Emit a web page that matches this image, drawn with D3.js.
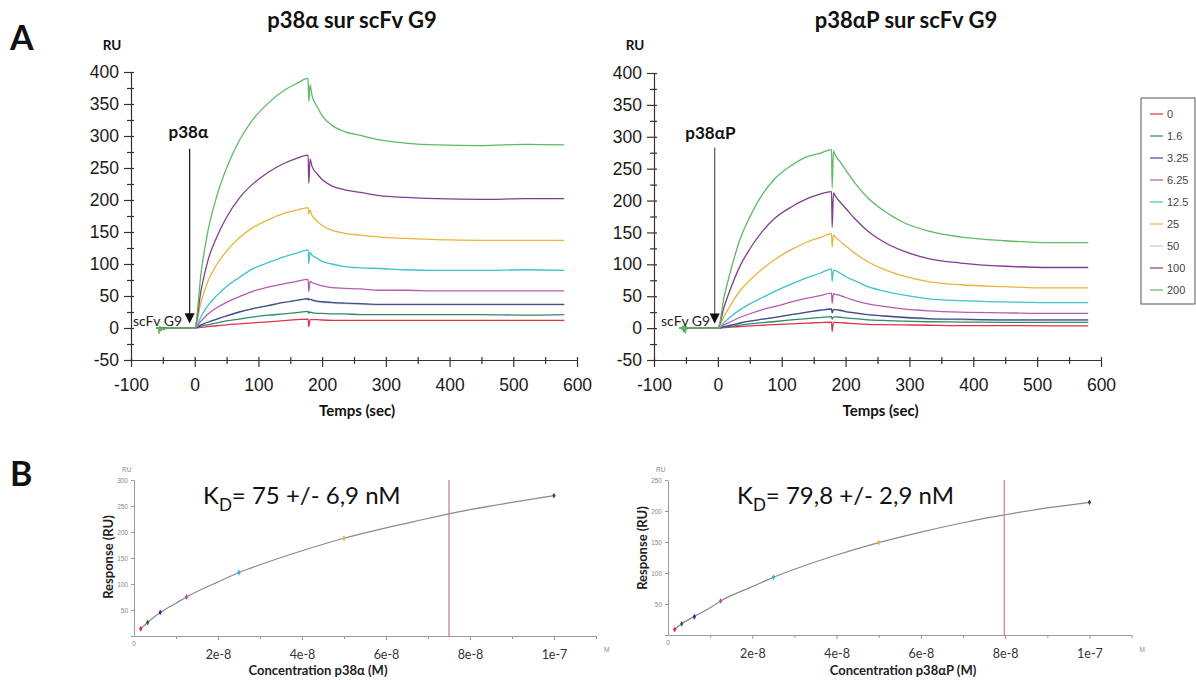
<!DOCTYPE html>
<html>
<head>
<meta charset="utf-8">
<script src="https://cdn.jsdelivr.net/npm/d3@7"></script>
<style>
  body { margin: 0; background: #fff; }
  .calibri { font-family: Lato, "Open Sans", sans-serif; }
  .arial { font-family: "Liberation Sans", Arial, sans-serif; }
</style>
</head>
<body>
<svg id="chart" width="1196" height="680"></svg>
<script>
// sampling times of the sensorgrams (sec)
const times = [-60, -57, -56, -55, -53, -51, -49, -45, -20,
  0, 10, 20, 35, 50, 70, 90, 115, 140, 160, 178,
  179, 181,
  184, 192, 200, 215, 235, 260, 290, 330, 380, 450, 520, 580];

// legend (nM) and series colours
const concLabels = ["0", "1.6", "3.25", "6.25", "12.5", "25", "50", "100", "200"];
const seriesColors = ["#e0344a", "#2f8a68", "#3e4f8e", "#b35cb0", "#3fc4cb", "#e9b43c", "#c9c9c9", "#7f3e8e", "#5cbb62"];

// p38α sur scFv G9 (RU), one row per legend entry
const p38aValues = [
  [0,0,0,0,0,0,0,0,0, 0,1,2,3.5,5,6.5,8,9.5,11.5,13,14, 2,13, 13,13,12.5,12,12,12,12,12,12,12,12,12],
  [0,0,-7,2,-4,1,-2,0,0, 0,3,5,8,11,14,17,20,22,24,26, 23,25, 24,23,23,22,22,21,21,21,21,21,20,21],
  [0,0,0,0,0,0,0,0,0, 0,5,9,14,19,25,30,35,40,43,46, 44,45, 44,42,41,40,39,38,37,37,37,37,37,37],
  [0,0,0,0,0,0,0,0,0, 0,11,21,32,40,49,57,64,69,73,76, 57,73, 71,68,66,63,62,61,59,59,58,58,58,58],
  [0,0,0,0,0,0,0,0,0, 0,18,34,51,65,79,92,102,111,117,122, 101,118, 114,109,104,100,96,94,93,91,90,90,91,90],
  [0,0,0,0,0,0,0,0,0, 0,41,71,100,120,141,156,169,179,184,188, 178,184, 176,167,160,153,148,145,142,140,138,137,137,137],
  [0,0,0,0,0,0,0,0,0, 0,5,9,14,19,25,30,35,40,43,45, 44,45, 43,41,40,39,38,37,36,36,36,36,36,36],
  [0,0,0,0,0,0,0,0,0, 0,59,103,143,173,203,224,243,257,265,270, 226,264, 253,241,232,222,216,212,207,204,202,201,202,202],
  [0,1,-9,3,-5,1,-3,0,0, 0,86,148,207,250,293,324,351,371,382,390, 354,380, 364,346,332,317,307,301,294,289,286,285,287,286]
];

// p38αP sur scFv G9 (RU)
const p38aPValues = [
  [0,0,0,0,0,0,0,0,0, 0,0.8,1.4,2.4,3.4,4.5,5.5,6.7,7.8,8.6,9.4, -5,9, 9,8.5,8,7,6,5.5,5,4.5,4,4,3.6,3.6],
  [0,0,-2,3,-6,4,-1,0,0, 0,1.5,2.7,4.7,6.5,8.6,10.4,12.8,15,16.6,18, 14,17.5, 17.5,17,16,15,13,12,11,10,9.5,9,9,9],
  [0,0,0,0,0,0,0,0,0, 0,2.5,4.5,8,11,14,17,21,25,28,30, 24,29, 29,28,26,24,21,19,17,15,14,13,13,13],
  [0,0,0,0,0,0,0,0,0, 0,5.5,10,17,22.5,29,34,41,47,51,55, 39,54, 53,51,48,43,38,34,30,27,25,24,23,23],
  [0,0,0,0,0,0,0,0,0, 0,9,18,29,38,48,58,69,79,86,93, 73,91, 90,86,81,74,65,58,52,46,43,41,40,40],
  [0,0,0,0,0,0,0,0,0, 0,19,36,59,75,93,108,123,135,142,148, 127,146, 143,136,129,117,104,92,82,73,68,65,63,63],
  [0,0,0,0,0,0,0,0,0, 0,2.5,4.5,8,11,14,17,21,25,28,30, 24,29, 29,27,26,23,21,19,16,14,13,12,12,12],
  [0,0,0,0,0,0,0,0,0, 0,34,62,98,124,152,173,190,203,210,214, 158,212, 207,197,188,171,152,135,121,109,102,97,95,95],
  [0,0,1,-3,4,-8,2,0,0, 0,50,90,140,174,210,235,255,269,274,280, 220,278, 271,260,248,227,204,184,166,152,143,137,134,134]
];

const timeTicks = [-100, 0, 100, 200, 300, 400, 500, 600];
const ruTicks = [-50, 0, 50, 100, 150, 200, 250, 300, 350, 400];

// steady state binding (panel B)
const pointConc = [1.6, 3.25, 6.25, 12.5, 25, 50, 100]; // nM
const pointColors = ["#d0323c", "#2d6a3e", "#2838a0", "#b050b0", "#30b8c8", "#e8b040", "#6a2a7a"];
const p38aResp = [14, 26, 45.5, 75, 122, 188, 270];
const p38aPResp = [9, 18, 29.5, 55, 93, 149, 214];
const fitConc = [1.6, 3.25, 6.25, 10, 12.5, 20, 25, 30, 40, 50, 60, 70, 75, 80, 90, 100];
const p38aFit = [14, 26, 45, 63, 75, 104, 122, 137, 164, 188, 208, 226, 235, 243, 257, 270];
const p38aPFit = [9, 18, 30, 44, 55, 78, 93, 106, 129, 149, 166, 181, 188, 194, 205, 214];
const concTicks = [2e-8, 4e-8, 6e-8, 8e-8, 1e-7];
const concTickLabels = ["2e-8", "4e-8", "6e-8", "8e-8", "1e-7"];

const svg = d3.select("#chart");

function drawSensorgram(opt) {
  const x = d3.scaleLinear().domain([-100, 600]).range([opt.x0, opt.x1]);
  const y = d3.scaleLinear().domain([-50, 400]).range([360, opt.yTop]);
  const g = svg.append("g");

  // minor ticks first
  g.append("g")
    .attr("transform", `translate(0,${y(-50)})`)
    .call(d3.axisBottom(x).tickValues(timeTicks.slice(0, -1).map(d => d + 50)).tickSize(4).tickFormat(""))
    .call(a => a.select(".domain").remove())
    .call(a => a.selectAll(".tick line").attr("y1", -3).attr("stroke", "#333"));
  g.append("g")
    .attr("transform", `translate(${opt.x0},0)`)
    .call(d3.axisLeft(y).tickValues(ruTicks.slice(0, -1).map(d => d + 25)).tickSize(4).tickFormat(""))
    .call(a => a.select(".domain").remove())
    .call(a => a.selectAll(".tick line").attr("x1", 3).attr("stroke", "#333"));

  // plain hyphen for negatives, like the original
  const fmt = d => String(d);
  const xa = g.append("g")
    .attr("transform", `translate(0,${y(-50)})`)
    .call(d3.axisBottom(x).tickValues(timeTicks).tickFormat(fmt).tickSize(7).tickSizeOuter(0).tickPadding(8));
  xa.selectAll(".tick line").attr("y1", -3);
  const ya = g.append("g")
    .attr("transform", `translate(${opt.x0},0)`)
    .call(d3.axisLeft(y).tickValues(ruTicks).tickFormat(fmt).tickSize(7).tickSizeOuter(0).tickPadding(5));
  ya.selectAll(".tick line").attr("x1", 3);
  g.selectAll(".domain, .tick line").attr("stroke", "#333").attr("stroke-width", 1.2);
  g.selectAll(".tick text").attr("class", "arial").attr("font-size", 17.5).attr("fill", "#1a1a1a");
  xa.selectAll(".tick text").attr("dy", "0.9em");

  const line = d3.line()
    .x((d, i) => x(times[i]))
    .y(d => y(d))
    .curve(d3.curveMonotoneX);

  // gray (50) sits underneath the others
  const order = [6, 0, 1, 2, 3, 4, 5, 7, 8];
  g.selectAll(".trace")
    .data(order)
    .enter().append("path")
    .attr("class", "trace")
    .attr("d", k => line(opt.values[k]))
    .attr("fill", "none")
    .attr("stroke", k => seriesColors[k])
    .attr("stroke-width", 1.3);

  // injection arrow
  const ax = x(opt.arrowT);
  g.append("line")
    .attr("x1", ax).attr("x2", ax)
    .attr("y1", y(opt.arrowTop)).attr("y2", y(15))
    .attr("stroke", opt.arrowColor).attr("stroke-width", 1.3);
  g.append("path")
    .attr("d", `M${ax - 5},${y(23)} L${ax + 5},${y(23)} L${ax},${y(7)} Z`)
    .attr("fill", "#111");

  g.append("text").attr("class", "calibri")
    .attr("x", x(opt.labelT)).attr("y", y(297))
    .attr("font-size", 17).attr("font-weight", "bold").attr("fill", "#111")
    .text(opt.analyte);
  g.append("text").attr("class", "calibri")
    .attr("x", x(opt.ligandT)).attr("y", y(3))
    .attr("font-size", 14).attr("fill", "#222")
    .text("scFv G9");

  g.append("text").attr("class", "calibri")
    .attr("x", opt.x0 - 19).attr("y", 50)
    .attr("text-anchor", "middle")
    .attr("font-size", 13.5).attr("font-weight", "bold").attr("fill", "#111")
    .text("RU");
  g.append("text").attr("class", "calibri")
    .attr("x", opt.titleX).attr("y", 28)
    .attr("text-anchor", "middle")
    .attr("font-size", 22).attr("font-weight", "bold").attr("fill", "#111")
    .text(opt.title);
  g.append("text").attr("class", "calibri")
    .attr("x", (opt.x0 + opt.x1) / 2 + 3).attr("y", 416)
    .attr("text-anchor", "middle")
    .attr("font-size", 15).attr("font-weight", "bold").attr("fill", "#111")
    .text("Temps (sec)");
}

function drawBinding(opt) {
  const x = d3.scaleLinear().domain([0, 1.1e-7]).range([opt.x0, opt.x1]);
  const y = d3.scaleLinear().domain([0, opt.yMax]).range([opt.yBase, 480]);
  const g = svg.append("g");

  g.append("g")
    .attr("transform", `translate(0,${opt.yBase})`)
    .call(d3.axisBottom(x).tickValues([1e-8, 3e-8, 5e-8, 7e-8, 9e-8, 1.1e-7]).tickSize(3).tickFormat(""))
    .call(a => a.select(".domain").remove());
  const xa = g.append("g")
    .attr("transform", `translate(0,${opt.yBase})`)
    .call(d3.axisBottom(x).tickValues(concTicks).tickSize(4).tickSizeOuter(0).tickPadding(10)
      .tickFormat((d, i) => concTickLabels[i]));
  xa.selectAll(".tick text").attr("class", "calibri").attr("font-size", 12.5).attr("fill", "#333");
  const ya = g.append("g")
    .attr("transform", `translate(${opt.x0},0)`)
    .call(d3.axisLeft(y).tickValues(opt.yTicks).tickSize(3).tickSizeOuter(0).tickPadding(3));
  ya.selectAll(".tick text").attr("class", "arial").attr("font-size", 6.5).attr("fill", "#888");
  ya.selectAll(".tick").filter(d => d === 0).select("text").remove();
  g.selectAll(".domain, .tick line").attr("stroke", "#9a9a9a");

  // small unit labels
  g.append("text").attr("class", "arial").attr("x", opt.x0 - 12).attr("y", 472)
    .attr("font-size", 6.5).attr("fill", "#888").text("RU");
  g.append("text").attr("class", "arial").attr("x", opt.x0).attr("y", opt.yBase + 10)
    .attr("text-anchor", "middle").attr("font-size", 6.5).attr("fill", "#888").text("0");
  g.append("text").attr("class", "arial").attr("x", x(1.1e-7) + 8).attr("y", 652)
    .attr("font-size", 6.5).attr("fill", "#888").text("M");

  // KD marker
  g.append("line")
    .attr("x1", x(opt.kd * 1e-9)).attr("x2", x(opt.kd * 1e-9))
    .attr("y1", y(0)).attr("y2", y(opt.yMax))
    .attr("stroke", "#c79aa3").attr("stroke-width", 1.5);

  const line = d3.line()
    .x((d, i) => x(fitConc[i] * 1e-9))
    .y(d => y(d))
    .curve(d3.curveMonotoneX);
  g.append("path")
    .attr("d", line(opt.fit))
    .attr("fill", "none").attr("stroke", "#8a8a8a").attr("stroke-width", 1.2);

  g.selectAll(".pt")
    .data(opt.resp)
    .enter().append("path")
    .attr("class", "pt")
    .attr("transform", (d, i) => `translate(${x(pointConc[i] * 1e-9)},${y(d)})`)
    .attr("d", d3.symbol(d3.symbolDiamond, 10))
    .attr("fill", (d, i) => pointColors[i]);

  const kd = g.append("text").attr("class", "calibri")
    .attr("x", opt.kdX).attr("y", 504)
    .attr("font-size", 24).attr("fill", "#111");
  kd.append("tspan").text("K");
  kd.append("tspan").attr("font-size", 17).attr("dy", 7).text("D");
  kd.append("tspan").attr("dy", -7).text(opt.kdText);

  g.append("text").attr("class", "calibri")
    .attr("transform", `translate(${opt.ylabX},${opt.ylabY}) rotate(-90)`)
    .attr("text-anchor", "middle")
    .attr("font-size", 13).attr("font-weight", "bold").attr("fill", "#222")
    .text("Response (RU)");
  g.append("text").attr("class", "calibri")
    .attr("x", opt.xlabX).attr("y", 675)
    .attr("text-anchor", "middle")
    .attr("font-size", 13).attr("font-weight", "bold").attr("fill", "#222")
    .text(opt.xlab);
}

drawSensorgram({
  x0: 131, x1: 577, yTop: 72, values: p38aValues,
  title: "p38α sur scFv G9", titleX: 352, analyte: "p38α",
  arrowT: -8, arrowTop: 280, arrowColor: "#222", labelT: -41, ligandT: -97
});
drawSensorgram({
  x0: 654, x1: 1101, yTop: 73, values: p38aPValues,
  title: "p38αP sur scFv G9", titleX: 906, analyte: "p38αP",
  arrowT: -5, arrowTop: 283, arrowColor: "#666", labelT: -51, ligandT: -89
});

// legend
const legend = svg.append("g");
legend.append("rect")
  .attr("x", 1141).attr("y", 98).attr("width", 54).attr("height", 206)
  .attr("fill", "none").attr("stroke", "#555").attr("stroke-width", 1);
const items = legend.selectAll(".item")
  .data(concLabels)
  .enter().append("g")
  .attr("transform", (d, i) => `translate(0,${114 + i * 22})`);
items.append("line")
  .attr("x1", 1150).attr("x2", 1163)
  .attr("stroke", (d, i) => seriesColors[i]).attr("stroke-width", 1.2);
items.append("text").attr("class", "arial")
  .attr("x", 1167).attr("y", 4)
  .attr("font-size", 11).attr("fill", "#444")
  .text(d => d);

drawBinding({
  x0: 134, x1: 596, yBase: 636, yMax: 300, yTicks: [0, 50, 100, 150, 200, 250, 300],
  fit: p38aFit, resp: p38aResp, kd: 75, kdX: 203, kdText: "= 75 +/- 6,9 nM",
  ylabX: 113, ylabY: 557, xlabX: 318, xlab: "Concentration p38α (M)"
});
drawBinding({
  x0: 668, x1: 1131.6, yBase: 635, yMax: 250, yTicks: [0, 50, 100, 150, 200, 250],
  fit: p38aPFit, resp: p38aPResp, kd: 79.8, kdX: 737, kdText: "= 79,8 +/- 2,9 nM",
  ylabX: 647, ylabY: 548, xlabX: 903, xlab: "Concentration p38αP (M)"
});

// panel letters
svg.append("text").attr("class", "calibri").attr("x", 10).attr("y", 50)
  .attr("font-size", 34).attr("font-weight", "bold").attr("fill", "#111").text("A");
svg.append("text").attr("class", "calibri").attr("x", 10).attr("y", 486)
  .attr("font-size", 34).attr("font-weight", "bold").attr("fill", "#111").text("B");
</script>
</body>
</html>
